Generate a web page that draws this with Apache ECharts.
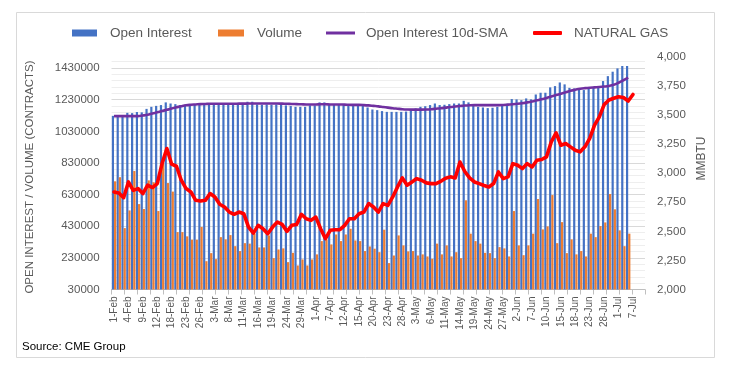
<!DOCTYPE html>
<html>
<head>
<meta charset="utf-8">
<script src="https://cdn.jsdelivr.net/npm/echarts@6/dist/echarts.min.js"></script>
<style>
html,body{margin:0;padding:0;background:#fff;}
#chart{width:734px;height:374px;}
</style>
</head>
<body>
<div id="chart"></div>
<script>
// ---- data ----
var categories = [
 '1-Feb','2-Feb','3-Feb','4-Feb','5-Feb','8-Feb','9-Feb','10-Feb','11-Feb','12-Feb','16-Feb','17-Feb','18-Feb','19-Feb','22-Feb','23-Feb','24-Feb','25-Feb','26-Feb',
 '1-Mar','2-Mar','3-Mar','4-Mar','5-Mar','8-Mar','9-Mar','10-Mar','11-Mar','12-Mar','15-Mar','16-Mar','17-Mar','18-Mar','19-Mar','22-Mar','23-Mar','24-Mar','25-Mar','26-Mar','29-Mar','30-Mar','31-Mar',
 '1-Apr','5-Apr','6-Apr','7-Apr','8-Apr','9-Apr','12-Apr','13-Apr','14-Apr','15-Apr','16-Apr','19-Apr','20-Apr','21-Apr','22-Apr','23-Apr','26-Apr','27-Apr','28-Apr','29-Apr','30-Apr',
 '3-May','4-May','5-May','6-May','7-May','10-May','11-May','12-May','13-May','14-May','17-May','18-May','19-May','20-May','21-May','24-May','25-May','26-May','27-May','28-May',
 '1-Jun','2-Jun','3-Jun','4-Jun','7-Jun','8-Jun','9-Jun','10-Jun','11-Jun','14-Jun','15-Jun','16-Jun','17-Jun','18-Jun','21-Jun','22-Jun','23-Jun','24-Jun','25-Jun','28-Jun','29-Jun','30-Jun',
 '1-Jul','2-Jul','6-Jul','7-Jul','',''
];

var openInterest = [
 1128000,1128000,1130000,1147000,1145000,1152000,1150000,1172000,1185000,1191000,
 1196000,1213000,1206000,1202000,1196000,1198000,1200000,1198000,1200000,1198000,
 1200000,1200000,1198000,1200000,1198000,1200000,1204000,1210000,1217000,1217000,
 1200000,1198000,1200000,1198000,1200000,1198000,1194000,1190000,1185000,1185000,
 1185000,1194000,1194000,1213000,1213000,1200000,1198000,1200000,1198000,1196000,
 1198000,1196000,1194000,1181000,1168000,1164000,1158000,1153000,1153000,1153000,
 1153000,1155000,1164000,1175000,1185000,1189000,1196000,1206000,1196000,1198000,
 1202000,1206000,1206000,1223000,1213000,1200000,1185000,1181000,1177000,1179000,
 1185000,1200000,1204000,1234000,1232000,1227000,1238000,1232000,1263000,1274000,
 1274000,1308000,1316000,1339000,1327000,1305000,1301000,1301000,1291000,1301000,
 1305000,1305000,1348000,1379000,1407000,1428000,1443000,1443000,null
];

var volume = [
 714000,740000,418000,530000,779000,570000,539000,720000,708000,526000,
 826000,703000,649000,393000,393000,366000,345000,345000,425000,209000,
 260000,222000,361000,347000,374000,304000,273000,323000,320000,383000,
 296000,296000,372000,228000,283000,290000,203000,262000,182000,220000,
 182000,220000,252000,336000,345000,315000,378000,336000,378000,414000,
 340000,336000,273000,302000,288000,266000,408000,197000,245000,372000,
 309000,271000,273000,245000,252000,239000,224000,320000,252000,309000,
 239000,266000,228000,594000,383000,336000,320000,262000,260000,228000,
 298000,290000,239000,526000,309000,247000,309000,383000,602000,410000,
 429000,627000,323000,456000,260000,347000,252000,273000,239000,383000,
 361000,431000,454000,634000,537000,404000,304000,383000,null
];

var oiSma10 = [
 1126000,1126000,1126000,1126000,1126000,1126000,1130000,1135000,1143000,1150000,
 1158000,1166000,1175000,1182000,1189000,1195000,1198000,1200000,1202000,1203000,
 1204000,1204000,1204000,1204000,1204000,1204000,1205000,1205000,1206000,1206000,
 1206000,1206000,1206000,1206000,1206000,1205000,1204000,1203000,1202000,1201000,
 1200000,1200000,1200000,1201000,1201000,1200000,1200000,1200000,1199000,1198000,
 1197000,1197000,1196000,1194000,1191000,1188000,1184000,1180000,1176000,1173000,
 1170000,1168000,1167000,1167000,1167000,1168000,1170000,1173000,1176000,1180000,
 1184000,1187000,1190000,1193000,1195000,1196000,1196000,1196000,1196000,1196000,
 1196000,1197000,1199000,1201000,1204000,1208000,1213000,1219000,1226000,1233000,
 1241000,1250000,1259000,1268000,1277000,1286000,1293000,1299000,1303000,1306000,
 1308000,1310000,1313000,1317000,1324000,1337000,1353000,1370000,null
];

var naturalGas = [
 2839,2830,2790,2925,2853,2868,2825,2897,2877,2911,
 3083,3213,3078,3060,2940,2868,2839,2767,2761,2767,
 2825,2796,2733,2710,2666,2647,2666,2652,2537,2485,
 2552,2523,2480,2537,2580,2560,2500,2552,2560,2647,
 2609,2595,2623,2523,2437,2509,2514,2514,2552,2609,
 2609,2652,2666,2739,2710,2666,2739,2724,2796,2882,
 2960,2897,2925,2954,2940,2917,2911,2911,2931,2957,
 2969,2960,3097,3015,2960,2925,2911,2895,2882,2911,
 3011,2954,2969,3083,3069,3040,3083,3054,3112,3118,
 3141,3270,3347,3241,3256,3227,3198,3184,3227,3300,
 3414,3485,3590,3630,3645,3658,3652,3621,3678
];

var seriesNames = ['Open Interest','Volume','Open Interest 10d-SMA','NATURAL GAS'];
var leftAxisTitle = 'OPEN INTEREST / VOLUME (CONTRACTS)';
var rightAxisTitle = 'MMBTU';
var sourceText = 'Source: CME Group';

// ---- chart ----
var txt = '#595959';
var font = 'Liberation Sans, Arial, sans-serif';
var chart = echarts.init(document.getElementById('chart'), null, {renderer:'canvas'});

var tickCats = [];
for (var k = 0; k < 82; k++) tickCats.push('');

function legendItem(name, left, w, h, icon, pad) {
  return {
    data: [name], left: left, top: 26, padding: 0,
    itemWidth: w, itemHeight: h, icon: icon, selectedMode: false,
    textStyle: {color: txt, fontSize: 13.5, fontFamily: font, padding: [0,0,0,pad]}
  };
}

chart.setOption({
  animation: false,
  backgroundColor: '#fff',
  textStyle: {fontFamily: font},
  legend: [
    legendItem(seriesNames[0], 72, 25, 7, 'rect', 8),
    legendItem(seriesNames[1], 218, 26, 7, 'rect', 8),
    legendItem(seriesNames[2], 326, 29, 3, 'rect', 6),
    legendItem(seriesNames[3], 533, 29, 4, 'roundRect', 7)
  ],
  grid: {left: 111.6, right: 89, top: 57, bottom: 84.5, containLabel: false},
  xAxis: [
    {
      type: 'category', data: categories, boundaryGap: true,
      axisLine: {show: true, lineStyle: {color: '#bfbfbf', width: 1}},
      axisTick: {show: false},
      axisLabel: {interval: 2, rotate: 90, fontSize: 10, color: txt, margin: 7, fontFamily: font},
      splitLine: {show: false}
    },
    {
      type: 'category', data: tickCats, boundaryGap: true, position: 'bottom',
      axisLine: {show: false},
      axisTick: {show: true, length: 5, lineStyle: {color: '#bfbfbf'}},
      axisLabel: {show: false},
      splitLine: {show: false}
    }
  ],
  yAxis: [
    {
      type: 'value', position: 'left', min: 30000, max: 1500000, interval: 40000,
      axisLine: {show: false}, axisTick: {show: false}, axisLabel: {show: false},
      splitLine: {show: true, showMaxLine: false, lineStyle: {color: '#eeeeee', width: 1}}
    },
    {
      type: 'value', position: 'left', min: 30000, max: 1500000, interval: 200000,
      axisLine: {show: false}, axisTick: {show: false},
      axisLabel: {color: txt, fontSize: 11.5, margin: 12, showMaxLabel: false, fontFamily: font,
        formatter: function (v) { return String(v); }},
      splitLine: {show: true, showMaxLine: false, lineStyle: {color: '#d9d9d9', width: 1}}
    },
    {
      type: 'value', position: 'right', min: 2000, max: 4000, interval: 250,
      axisLine: {show: false}, axisTick: {show: false},
      axisLabel: {color: txt, fontSize: 11.5, margin: 12, fontFamily: font},
      splitLine: {show: false}
    }
  ],
  series: [
    {name: seriesNames[0], type: 'bar', yAxisIndex: 1, data: openInterest,
     barWidth: 2.2, barGap: '0%', itemStyle: {color: '#4472C4'}},
    {name: seriesNames[1], type: 'bar', yAxisIndex: 1, data: volume,
     barWidth: 2.2, barGap: '0%', itemStyle: {color: '#ED7D31'}},
    {name: seriesNames[2], type: 'line', yAxisIndex: 1, data: oiSma10,
     symbol: 'none', smooth: 0.4, itemStyle: {color: '#7030A0'},
     lineStyle: {color: '#7030A0', width: 2.6}, z: 3},
    {name: seriesNames[3], type: 'line', yAxisIndex: 2, data: naturalGas,
     symbol: 'none', itemStyle: {color: '#FF0000'},
     lineStyle: {color: '#FF0000', width: 3.6, join: 'round', cap: 'round'}, z: 4}
  ],
  graphic: [
    {type: 'rect', silent: true, z: -10,
     shape: {x: 16.5, y: 12.5, width: 698, height: 345},
     style: {fill: 'none', stroke: '#d9d9d9', lineWidth: 1}},
    {type: 'text', x: 30, y: 177, rotation: Math.PI / 2,
     style: {text: leftAxisTitle, fill: txt, fontSize: 11.5, fontFamily: font, align: 'center', verticalAlign: 'middle'}},
    {type: 'text', x: 702, y: 158.5, rotation: Math.PI / 2,
     style: {text: rightAxisTitle, fill: txt, fontSize: 12, fontFamily: font, align: 'center', verticalAlign: 'middle'}},
    {type: 'text', x: 22, y: 347,
     style: {text: sourceText, fill: '#000', fontSize: 11.5, fontFamily: font, align: 'left', verticalAlign: 'middle'}}
  ]
});
</script>
</body>
</html>
